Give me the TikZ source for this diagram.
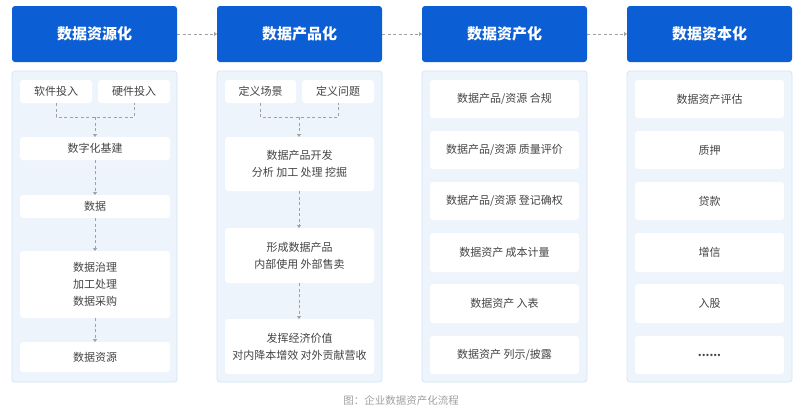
\documentclass[tikz,border=0pt]{standalone}
\usepackage{fontspec}
\setmainfont{Noto Sans CJK SC}
\usetikzlibrary{arrows.meta}
\definecolor{hdr}{HTML}{0B5ED3}
\definecolor{pan}{HTML}{EEF4FB}
\definecolor{panb}{HTML}{D5E5F7}
\definecolor{txt}{HTML}{444444}
\definecolor{dsh}{HTML}{A0A0A0}
\tikzset{
 hdrbox/.style={fill=hdr,rounded corners=3pt},
 hdrtext/.style={text=white,font=\fontsize{15}{18}\selectfont\bfseries},
 panel/.style={fill=pan,draw=panb,line width=0.8pt,rounded corners=3pt},
 item/.style={fill=white,rounded corners=3pt,text=txt,font=\fontsize{11}{17}\selectfont,align=center},
 conn/.style={draw=dsh,dashed,dash pattern=on 3pt off 2.5pt,line width=0.7pt},
 tip/.style={-{Triangle[width=4pt,length=3pt]}}
}
\newcommand{\itm}[6]{\path[item] (#2,#3) rectangle (#4,#5); \node[item,fill=none] (#1) at ({(#2+#4)/2},{(#3+#5)/2}) {#6};}
\begin{document}
\begin{tikzpicture}[x=1pt,y=-1pt]
\useasboundingbox (0,0) rectangle (802,413);
\fill[white] (0,0) rectangle (802,413);
\foreach \i/\t in {0/数据资源化,1/数据产品化,2/数据资产化,3/数据资本化}{
  \path[hdrbox] (12+205*\i,6) rectangle (177+205*\i,62);
  \node[hdrtext] (h\i) at (94.5+205*\i,34) {\t};
  \path[panel] (12+205*\i,71) rectangle (177+205*\i,382);
}
\draw[conn,tip] (177,34) -- (217,34);
\draw[conn,tip] (382,34) -- (422,34);
\draw[conn,tip] (587,34) -- (627,34);
% column 1
\itm{a1}{20}{80}{92}{103}{软件投入}
\itm{a2}{98}{80}{170}{103}{硬件投入}
\itm{a3}{20}{137}{170}{160}{数字化基建}
\itm{a4}{20}{195}{170}{218}{数据}
\itm{a5}{20}{251}{170}{318}{数据治理\\加工处理\\数据采购}
\itm{a6}{20}{342}{170}{372}{数据资源}
\draw[conn] (56,103) -- (56,117) -- (134,117) -- (134,103);
\draw[conn,tip] (95,117) -- (95,137);
\draw[conn,tip] (95,160) -- (95,195);
\draw[conn,tip] (95,218) -- (95,251);
\draw[conn,tip] (95,318) -- (95,342);
% column 2
\itm{b1}{225}{80}{296}{103}{定义场景}
\itm{b2}{302}{80}{374}{103}{定义问题}
\itm{b3}{225}{137}{374}{191}{数据产品开发\\分析\ 加工\ 处理\ 挖掘}
\itm{b4}{225}{228}{374}{283}{形成数据产品\\内部使用\ 外部售卖}
\itm{b5}{225}{319}{374}{374}{发挥经济价值\\对内降本增效\ 对外贡献营收}
\draw[conn] (260,103) -- (260,117) -- (338,117) -- (338,103);
\draw[conn,tip] (299,117) -- (299,137);
\draw[conn,tip] (299,191) -- (299,228);
\draw[conn,tip] (299,283) -- (299,319);
% column 3
\itm{c1}{430}{80}{579}{118}{数据产品/资源\ 合规}
\itm{c2}{430}{131}{579}{169}{数据产品/资源\ 质量评价}
\itm{c3}{430}{182}{579}{220}{数据产品/资源\ 登记确权}
\itm{c4}{430}{233}{579}{272}{数据资产\ 成本计量}
\itm{c5}{430}{284}{579}{323}{数据资产\ 入表}
\itm{c6}{430}{336}{579}{374}{数据资产\ 列示/披露}
% column 4
\itm{d1}{635}{80}{784}{118}{数据资产评估}
\itm{d2}{635}{131}{784}{169}{质押}
\itm{d3}{635}{182}{784}{220}{贷款}
\itm{d4}{635}{233}{784}{272}{增信}
\itm{d5}{635}{284}{784}{323}{入股}
\itm{d6}{635}{336}{784}{374}{\textbf{......}}
\node[text=dsh,font=\fontsize{10.5}{12}\selectfont] (cap) at (401,400) {图：企业数据资产化流程};
\end{tikzpicture}
\end{document}
